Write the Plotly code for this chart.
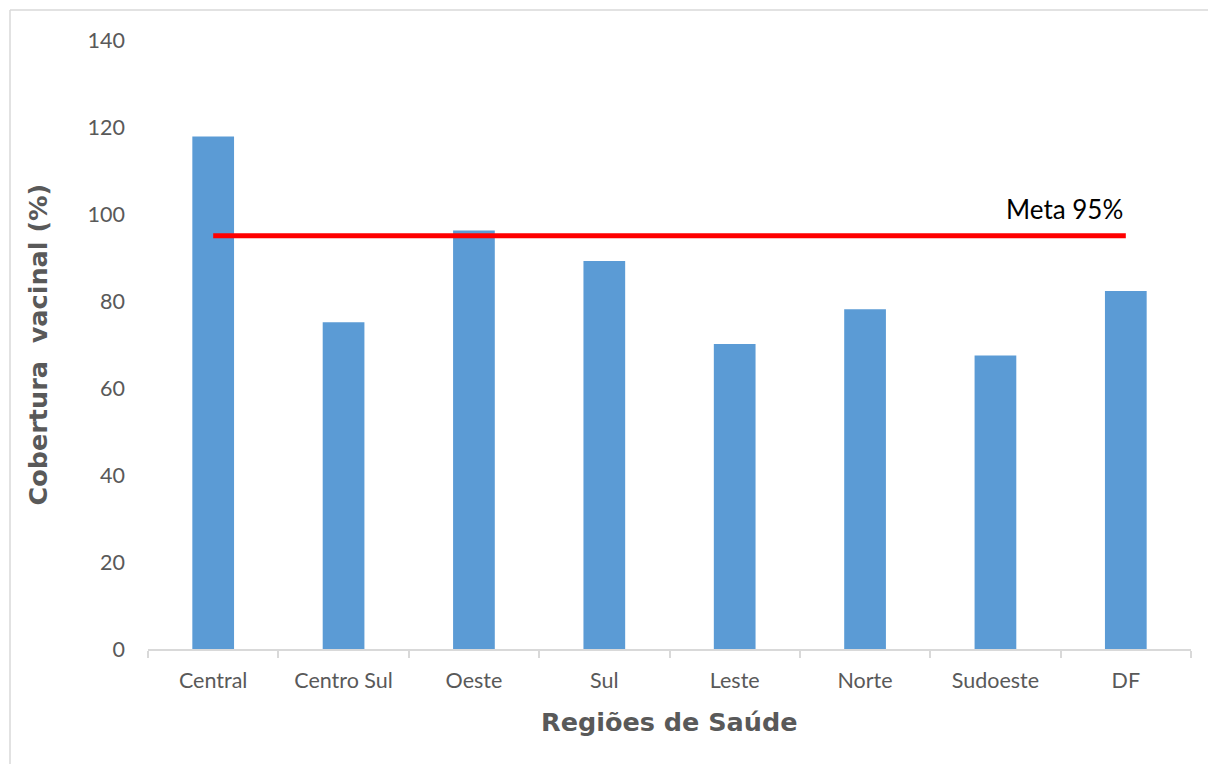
import plotly.graph_objects as go

categories = ["Central", "Centro Sul", "Oeste", "Sul", "Leste", "Norte", "Sudoeste", "DF"]
coverage = [117.8, 75.1, 96.2, 89.2, 70.1, 78.1, 67.5, 82.3]
meta_value = 95
meta_label = "Meta 95%"
y_ticks = [0, 20, 40, 60, 80, 100, 120, 140]

W, H = 1208, 764
ml, mr, mt, mb = 148, 17, 40, 115
pw = W - ml - mr
ph = H - mt - mb

fig = go.Figure()
fig.add_trace(go.Bar(
    x=categories, y=coverage, width=0.32,
    marker=dict(color="#5b9bd5", line=dict(width=0)),
    showlegend=False, hoverinfo="x+y",
))
fig.add_trace(go.Scatter(
    x=[categories[0], categories[-1]], y=[meta_value, meta_value],
    mode="lines", line=dict(color="#ff0000", width=5),
    showlegend=False, hoverinfo="skip",
))

fig.update_layout(
    width=W, height=H,
    margin=dict(l=ml, r=mr, t=mt, b=mb),
    paper_bgcolor="white", plot_bgcolor="white",
    font=dict(family="Lato, Open Sans, sans-serif", color="#595959", size=21),
    bargap=0.68,
    xaxis=dict(
        type="category", showgrid=False, zeroline=False,
        showline=True, linecolor="#d9d9d9", linewidth=2,
        ticks="outside", tickson="boundaries", ticklen=7, tickcolor="#d9d9d9", tickwidth=2,
        tickfont=dict(size=21.5, color="#595959"), ticklabelstandoff=11,
    ),
    yaxis=dict(
        range=[0, 140], tickvals=y_ticks, showgrid=False, zeroline=False,
        showline=False, ticks="", tickfont=dict(size=21.5, color="#595959"),
        ticklabelstandoff=22,
    ),
    annotations=[
        dict(text=meta_label, x=categories[-1], y=meta_value, xref="x", yref="y",
             xanchor="right", yanchor="bottom", yshift=9, xshift=-1, showarrow=False,
             font=dict(size=26, color="#000000", family="Lato, Open Sans, sans-serif")),
        dict(text="<b>Regiões de Saúde</b>", x=0.5, y=0, xref="paper", yref="paper",
             xanchor="center", yanchor="middle", yshift=-73, showarrow=False,
             font=dict(size=25.5, color="#595959", family="DejaVu Sans, sans-serif")),
        dict(text="<b>Cobertura&nbsp; vacinal (%)</b>", x=0, y=0.5, xref="paper", yref="paper",
             xanchor="center", yanchor="middle", xshift=-111, textangle=-90, showarrow=False,
             font=dict(size=25.5, color="#595959", family="DejaVu Sans, sans-serif")),
    ],
    shapes=[
        dict(type="line", xref="paper", yref="paper",
             x0=(10 - ml) / pw, x1=(W + 5 - ml) / pw, y0=(H - 10 - mb) / ph, y1=(H - 10 - mb) / ph,
             line=dict(color="#d9d9d9", width=1.5)),
        dict(type="line", xref="paper", yref="paper",
             x0=(10 - ml) / pw, x1=(10 - ml) / pw, y0=(H - 10 - mb) / ph, y1=(-5 - mb) / ph,
             line=dict(color="#d9d9d9", width=1.5)),
    ],
)

fig.write_html("out.html")
